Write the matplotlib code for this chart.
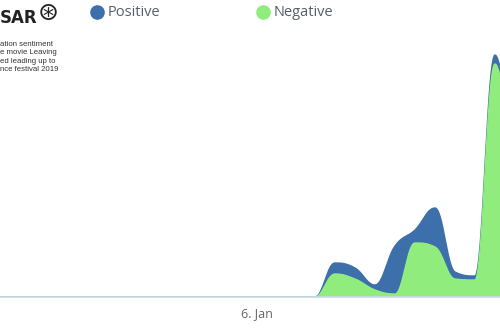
import matplotlib
matplotlib.use("Agg")
import matplotlib.pyplot as plt
from matplotlib.lines import Line2D
import numpy as np

# one point every step, the first non-zero value starts at index 0
idx = np.arange(-16, 11)
negative = [0, 0, 0, 0, 0, 0, 0, 0, 0, 0, 0, 0, 0, 0, 0, 0,
            0, 23, 18, 7, 3, 54, 50, 18, 17, 233, 110]
positive = [0, 0, 0, 0, 0, 0, 0, 0, 0, 0, 0, 0, 0, 0, 0, 0,
            0, 11, 11, 5, 48, 13, 39, 7, 4, 9, 10]
series_names = ["Positive", "Negative"]
series_colors = ["#3d6fab", "#90ed7d"]
tick_pos = [-2.9]
tick_labels = ["6. Jan"]
caption = ["ation sentiment", "e movie Leaving", "ed leading up to", "nce festival 2019"]


def spline(xs, ys, n=30):
    # highcharts-like bezier spline
    xs = np.asarray(xs, float)
    ys = np.asarray(ys, float)
    k = 1.5
    d = k + 1
    m = len(xs)
    lc = [(x, y) for x, y in zip(xs, ys)]
    rc = [(x, y) for x, y in zip(xs, ys)]
    for i in range(1, m - 1):
        px, py = xs[i], ys[i]
        lx, ly = xs[i - 1], ys[i - 1]
        nx, ny = xs[i + 1], ys[i + 1]
        lcx = (k * px + lx) / d
        lcy = (k * py + ly) / d
        rcx = (k * px + nx) / d
        rcy = (k * py + ny) / d
        corr = (rcy - lcy) * (rcx - px) / (rcx - lcx) + py - rcy
        lcy += corr
        rcy += corr
        if lcy > ly and lcy > py:
            lcy = max(ly, py)
            rcy = 2 * py - lcy
        elif lcy < ly and lcy < py:
            lcy = min(ly, py)
            rcy = 2 * py - lcy
        if rcy > ny and rcy > py:
            rcy = max(ny, py)
            lcy = 2 * py - rcy
        elif rcy < ny and rcy < py:
            rcy = min(ny, py)
            lcy = 2 * py - rcy
        lc[i] = (lcx, lcy)
        rc[i] = (rcx, rcy)
    t = np.linspace(0, 1, n)[:, None]
    out = []
    for i in range(m - 1):
        p0 = np.array([xs[i], ys[i]])
        p1 = np.array(rc[i])
        p2 = np.array(lc[i + 1])
        p3 = np.array([xs[i + 1], ys[i + 1]])
        seg = ((1 - t) ** 3) * p0 + 3 * ((1 - t) ** 2) * t * p1 + 3 * (1 - t) * t ** 2 * p2 + t ** 3 * p3
        out.append(seg if i == 0 else seg[1:])
    out = np.vstack(out)
    return out[:, 0], out[:, 1]


total = np.array(negative) + np.array(positive)
sx, s_neg = spline(idx, negative)
_, s_tot = spline(idx, total)

fig = plt.figure(figsize=(5, 3.3), dpi=100)
ax = fig.add_axes([0, 0.1, 1, 0.9])

ax.fill_between(sx, s_neg, s_tot, color=series_colors[0], lw=0)
ax.plot(sx, s_tot, color=series_colors[0], lw=1)
ax.fill_between(sx, 0, s_neg, color=series_colors[1], lw=0)
ax.plot(sx, s_neg, color=series_colors[1], lw=1)

ax.set_xlim(-15.75, 9.25)
ax.set_ylim(0, 297)
for s in ["top", "right", "left"]:
    ax.spines[s].set_visible(False)
ax.spines["bottom"].set_color("#ccd6eb")
ax.spines["bottom"].set_linewidth(1.2)
ax.set_yticks([])
ax.set_xticks(tick_pos)
ax.set_xticklabels(tick_labels, fontsize=9, color="#666666", fontfamily="Open Sans")
ax.tick_params(axis="x", length=0, pad=7)

# legend
leg_x = [97, 263]
for name, col, lx in zip(series_names, series_colors, leg_x):
    fig.add_artist(Line2D([lx / 500], [1 - 12 / 330], marker="o", markersize=9.5,
                          color=col, linestyle="none", transform=fig.transFigure))
    fig.text((lx + 11) / 500, 1 - 12 / 330, name, fontsize=10.5, color="#56606b",
             fontfamily="Open Sans", va="center", ha="left")

# logo and caption at the left edge
fig.text(0, 1 - 23 / 330, "SAR", fontsize=12, fontweight="bold",
         color="#222222", ha="left", va="baseline", fontfamily="DejaVu Sans")
fig.text(48 / 500, 1 - 13 / 330, "\u229b", fontsize=18, color="#222222",
         ha="center", va="center", fontfamily="DejaVu Sans")
for i, line in enumerate(caption):
    fig.text(0, 1 - (46 + 8.3 * i) / 330, line, fontsize=5.6, color="#333333",
             ha="left", va="baseline", fontfamily="Liberation Sans")

fig.savefig("out.png", dpi=100)
